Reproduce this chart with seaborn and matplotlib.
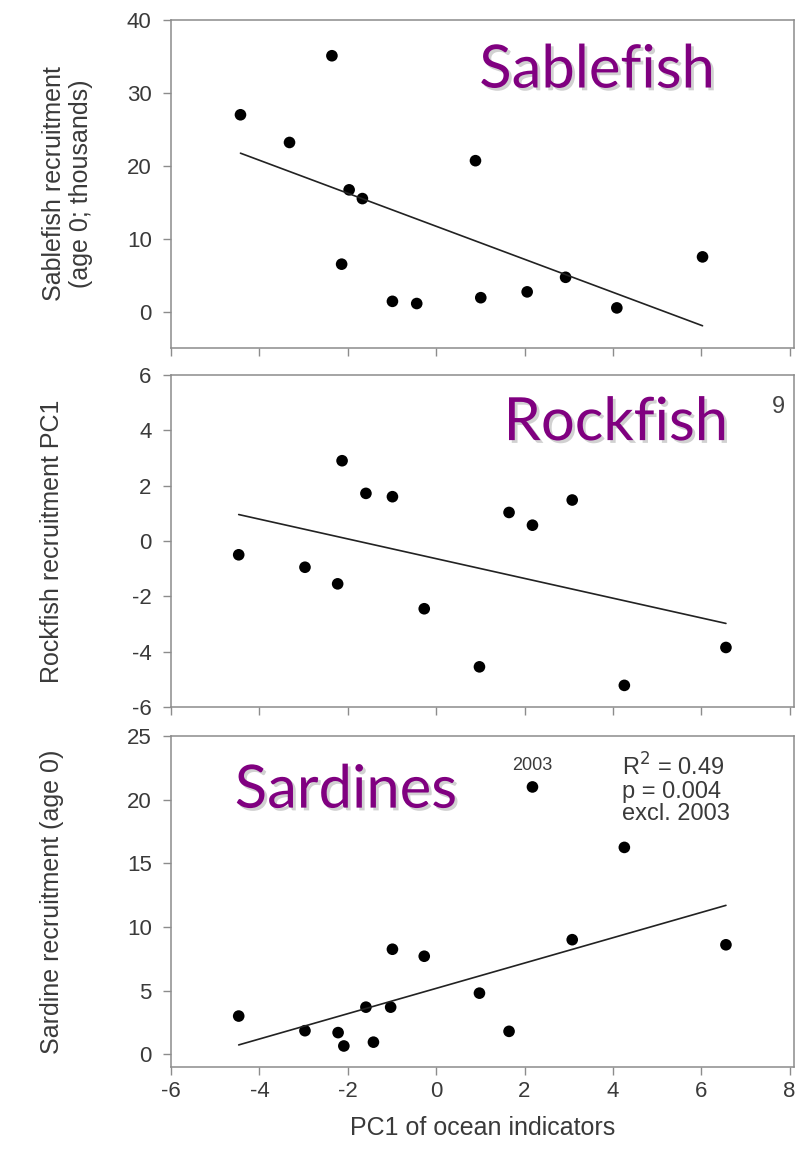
import numpy as np
import pandas as pd
import matplotlib
matplotlib.use("Agg")
import matplotlib.pyplot as plt
import matplotlib.patheffects as pe
import seaborn as sns

# values
sable_x = [-4.43, -3.32, -2.36, -1.97, -1.67, -2.14, -0.99, -0.44, 0.89, 1.01, 2.06, 2.93, 4.09, 6.03]
sable_y = [27.0, 23.2, 35.1, 16.7, 15.5, 6.5, 1.4, 1.1, 20.7, 1.9, 2.7, 4.7, 0.5, 7.5]

rock_x = [-4.47, -2.97, -2.23, -2.13, -1.59, -0.99, -0.27, 0.98, 1.65, 2.18, 3.08, 4.26, 6.56]
rock_y = [-0.5, -0.95, -1.55, 2.9, 1.72, 1.6, -2.45, -4.55, 1.03, 0.57, 1.48, -5.22, -3.85]

sard_x = [-4.47, -2.97, -2.22, -2.09, -1.59, -1.42, -1.03, -0.99, -0.27, 0.98, 1.65, 2.18, 3.08, 4.26, 6.56]
sard_y = [3.0, 1.85, 1.7, 0.65, 3.7, 0.95, 3.7, 8.25, 7.7, 4.8, 1.8, 21.0, 9.0, 16.25, 8.6]
sard_label = ["", "", "", "", "", "", "", "", "", "", "", "2003", "", "", ""]

x_ticks = [-6, -4, -2, 0, 2, 4, 6, 8]

sns.set_style("white")
plt.rcParams["font.family"] = ["Liberation Sans", "DejaVu Sans"]
plt.rcParams["axes.unicode_minus"] = False

fig = plt.figure(figsize=(8.11, 11.58), dpi=100)
left, width = 0.211, 0.768
ax1 = fig.add_axes([left, 0.6995, width, 0.2832])
ax2 = fig.add_axes([left, 0.3895, width, 0.2867])
ax3 = fig.add_axes([left, 0.0786, width, 0.2858])

df1 = pd.DataFrame({"x": sable_x, "y": sable_y})
df2 = pd.DataFrame({"x": rock_x, "y": rock_y})
df3 = pd.DataFrame({"x": sard_x, "y": sard_y, "lab": sard_label})
df3_fit = df3[df3["lab"] != "2003"]

line_kw = dict(color="#222222", lw=1.2)
for ax, df, fit in [(ax1, df1, df1), (ax2, df2, df2), (ax3, df3, df3_fit)]:
    sns.regplot(data=fit, x="x", y="y", ax=ax, scatter=False, ci=None, line_kws=line_kw)
    sns.scatterplot(data=df, x="x", y="y", ax=ax, color="black", s=70, edgecolor="none")
    ax.set_xlim(-6, 8.1)
    ax.set_xticks(x_ticks)
    for sp in ax.spines.values():
        sp.set_visible(True)
        sp.set_color("#8c8c8c")
        sp.set_linewidth(1.1)
    ax.tick_params(axis="both", direction="out", length=6, width=1, color="#8c8c8c", pad=8,
                   labelsize=16, labelcolor="#3a3a3a", left=True, bottom=True)
    ax.tick_params(axis="x", pad=4)
    ax.set_xlabel("")

ax1.set_ylim(-5, 40)
ax1.set_yticks([0, 10, 20, 30, 40])
ax2.set_ylim(-6, 6)
ax2.set_yticks([-6, -4, -2, 0, 2, 4, 6])
ax3.set_ylim(-1, 25)
ax3.set_yticks([0, 5, 10, 15, 20, 25])
ax1.set_xticklabels([])
ax2.set_xticklabels([])

lab_kw = dict(fontsize=18, color="#3a3a3a")
ax1.set_ylabel("Sablefish recruitment\n(age 0; thousands)", linespacing=1.15, **lab_kw)
ax1.yaxis.set_label_coords(-0.125, 0.5)
ax2.set_ylabel("Rockfish recruitment PC1", **lab_kw)
ax2.yaxis.set_label_coords(-0.172, 0.5)
ax3.set_ylabel("Sardine recruitment (age 0)", **lab_kw)
ax3.yaxis.set_label_coords(-0.172, 0.5)
ax3.set_xlabel("PC1 of ocean indicators", labelpad=10, **lab_kw)

# big purple species names
shadow = [pe.SimplePatchShadow(offset=(2, -2), shadow_rgbFace="#999999", alpha=0.45), pe.Normal()]
title_kw = dict(fontsize=43, color="#800080", family=["Lato", "DejaVu Sans"],
                ha="center", va="center", path_effects=shadow)
ax1.text(0.684, 0.846, "Sablefish", transform=ax1.transAxes, **title_kw)
ax2.text(0.714, 0.855, "Rockfish", transform=ax2.transAxes, **title_kw)
ax3.text(0.281, 0.835, "Sardines", transform=ax3.transAxes, **title_kw)
ax2.text(0.975, 0.905, "9", transform=ax2.transAxes, fontsize=17, color="#444444",
         ha="center", va="center")

# sardine annotations
for _, r in df3[df3["lab"] != ""].iterrows():
    ax3.annotate(r["lab"], (r["x"], r["y"]), xytext=(0, 9), textcoords="offset points",
                 ha="center", va="bottom", fontsize=13, color="#3a3a3a")
ax3.text(4.2, 23.6, "R$^{2}$ = 0.49\np = 0.004\nexcl. 2003", fontsize=17, color="#3a3a3a",
         ha="left", va="top", linespacing=1.0)

fig.savefig("out.png", dpi=100)
